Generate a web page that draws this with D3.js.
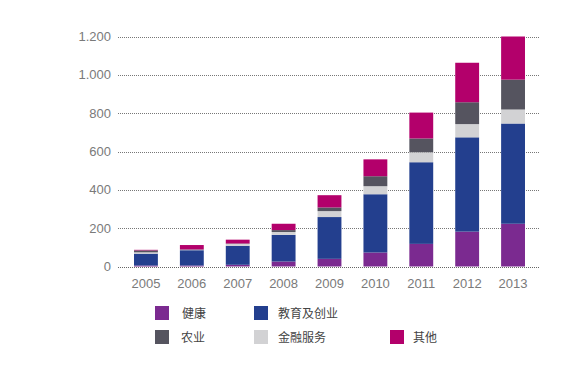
<!DOCTYPE html>
<html><head><meta charset="utf-8">
<script src="https://cdn.jsdelivr.net/npm/d3@7"></script>
<style>body{margin:0;background:#fff}svg{display:block}</style>
</head><body><svg width="579" height="378"></svg>
<script>
const years = ["2005","2006","2007","2008","2009","2010","2011","2012","2013"];
const health = [5, 5, 9, 26, 40, 73, 118, 182, 223];
const education = [62, 80, 99, 139, 218, 304, 426, 492, 523];
const finance = [7, 2, 10, 15, 31, 42, 52, 69, 73];
const agriculture = [10, 2, 2, 10, 19, 52, 72, 114, 156];
const other = [3, 23, 20, 33, 64, 88, 135, 206, 225];
const seriesNames = ["健康","教育及创业","金融服务","农业","其他"];
const seriesColors = ["#7b2a90","#233f8e","#d2d2d4","#55545f","#b3006b"];
const yTicks = [0,200,400,600,800,1000,1200];

const svg = d3.select("svg");
const data = years.map((y,i)=>({year:y, s0:health[i], s1:education[i], s2:finance[i], s3:agriculture[i], s4:other[i]}));
const keys = ["s0","s1","s2","s3","s4"];
const stack = d3.stack().keys(keys)(data);

const x = d3.scaleBand().domain(years).range([123, 536]).paddingInner(0.48).paddingOuter(0.24);
const y = d3.scaleLinear().domain([0,1200]).range([266.5, 36.5]);

const fmt = v => d3.format(",")(v).replace(/,/g,".");

// grid
svg.append("g").selectAll("line").data(yTicks).join("line")
  .attr("x1",118).attr("x2",540)
  .attr("y1",d=>Math.round(y(d))+0.5).attr("y2",d=>Math.round(y(d))+0.5)
  .attr("stroke",d=>d===0?"#666":"#777").attr("stroke-width",1)
  .attr("stroke-dasharray","1,1");

svg.append("g").selectAll("text").data(yTicks).join("text")
  .attr("x",111).attr("y",d=>y(d)+4.5)
  .attr("text-anchor","end").attr("font-family","Liberation Sans, Arial, sans-serif")
  .attr("font-size",13).attr("fill","#7a7a7a").text(fmt);

// bars
svg.append("g").selectAll("g").data(stack).join("g")
  .attr("fill",(d,i)=>seriesColors[i])
  .selectAll("rect").data(d=>d).join("rect")
  .attr("x",d=>x(d.data.year)).attr("width",x.bandwidth())
  .attr("y",d=>y(d[1])).attr("height",d=>y(d[0])-y(d[1]));

// x labels
svg.append("g").selectAll("text").data(years).join("text")
  .attr("x",d=>x(d)+x.bandwidth()/2).attr("y",288)
  .attr("text-anchor","middle").attr("font-family","Liberation Sans, Arial, sans-serif")
  .attr("font-size",13).attr("fill","#7a7a7a").text(d=>d);

// legend
const legendItems = [
  {i:0, sx:155, sy:306, tx:182},
  {i:1, sx:254, sy:306, tx:278},
  {i:3, sx:155, sy:330, tx:181},
  {i:2, sx:254, sy:330, tx:278},
  {i:4, sx:390, sy:330, tx:413}
];
const lg = svg.append("g");
legendItems.forEach(it=>{
  lg.append("rect").attr("x",it.sx).attr("y",it.sy).attr("width",14).attr("height",14).attr("fill",seriesColors[it.i]);
  lg.append("text").attr("x",it.tx).attr("y",it.sy+12)
    .attr("font-family","Noto Sans CJK SC, sans-serif").attr("font-size",12).attr("fill","#444")
    .text(seriesNames[it.i]);
});
</script></body></html>
